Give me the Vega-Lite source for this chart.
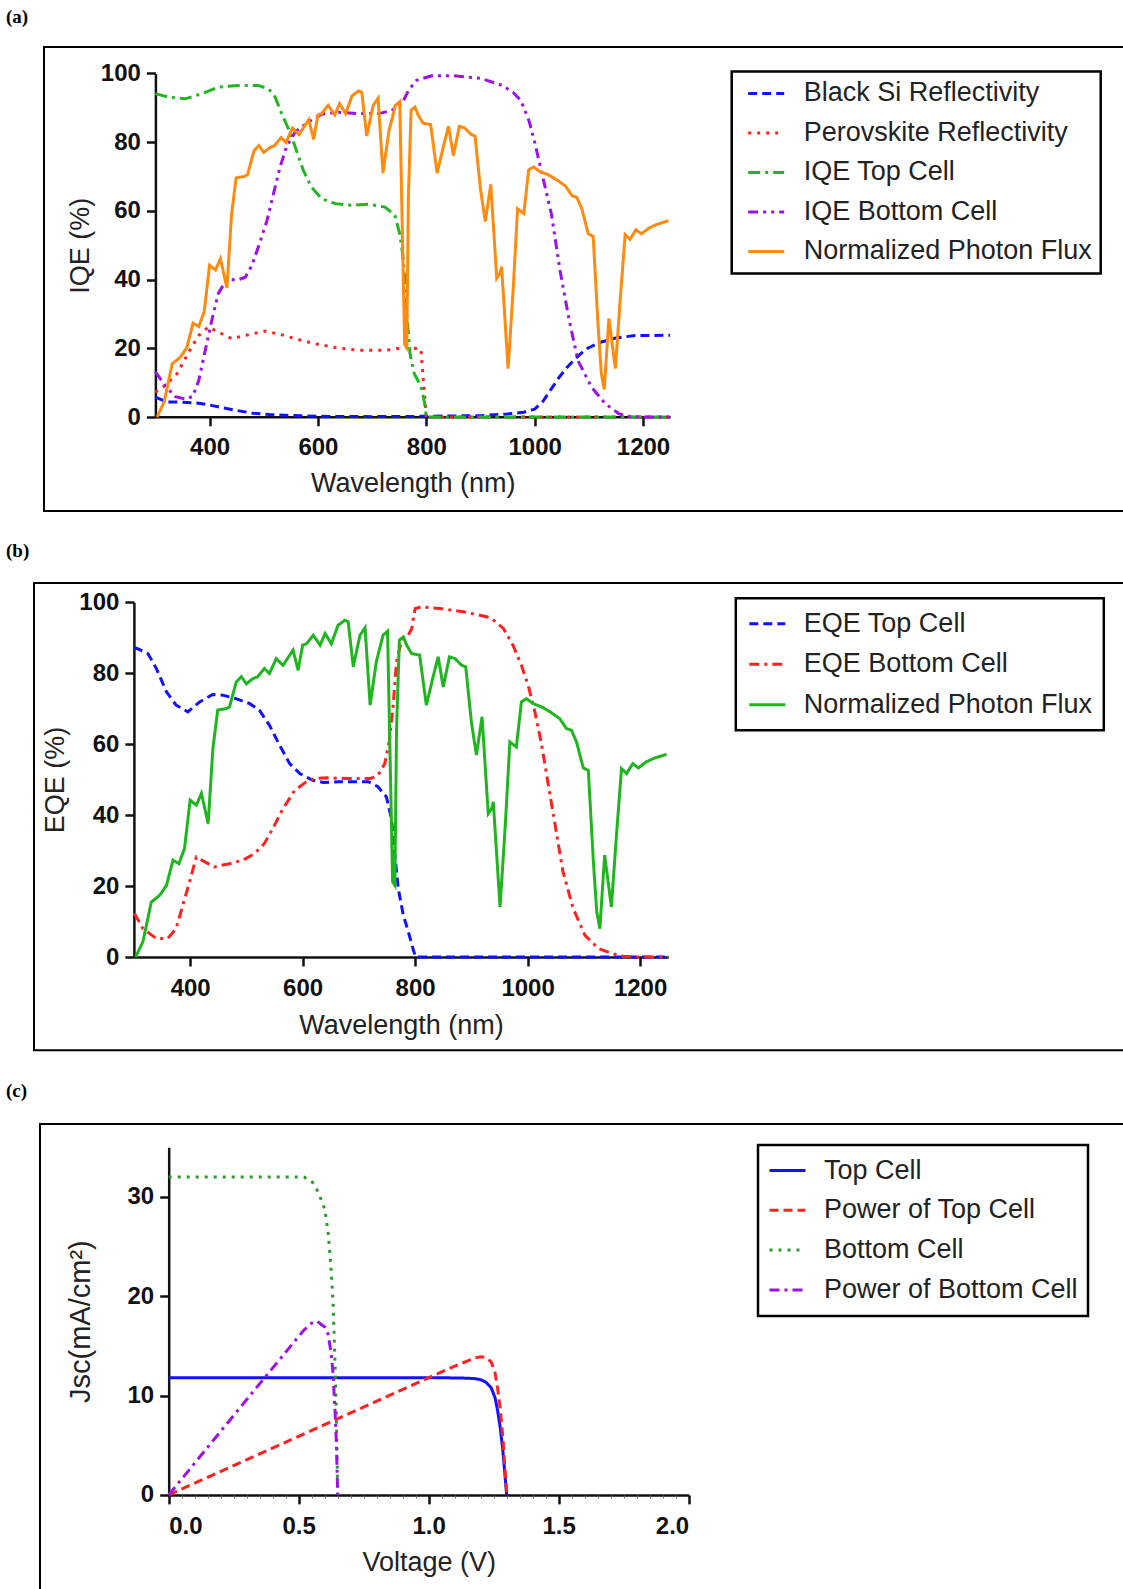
{
"$schema": "https://vega.github.io/schema/vega-lite/v6.json",
"background": "white",
"padding": {"left": 6, "top": 8, "right": 0, "bottom": 0},
"spacing": 30,
"config": {
  "view": {"stroke": "black", "strokeWidth": 2},
  "axis": {"grid": false, "domainColor": "#111", "domainWidth": 2.5, "tickColor": "#111", "tickWidth": 2.5, "tickSize": 9,
    "labelFont": "Liberation Sans", "labelFontWeight": "bold", "labelFontSize": 24, "labelColor": "#111", "labelPadding": 6,
    "titleFont": "Liberation Sans", "titleFontWeight": "normal", "titleFontSize": 27, "titleColor": "#222"},
  "legend": {"symbolType": "stroke", "symbolSize": 1296, "symbolStrokeWidth": 3, "labelFont": "Liberation Sans", "labelFontSize": 27,
    "labelColor": "#222", "strokeColor": "black", "strokeWidth": 2.5, "fillColor": "white", "labelLimit": 500, "title": null},
  "title": {"font": "Liberation Serif", "fontWeight": "bold", "fontSize": 19, "color": "black", "anchor": "start", "frame": "group", "baseline": "bottom"}
},
"resolve": {"scale": {"color": "independent", "strokeDash": "independent", "x": "independent", "y": "independent"}, "legend": {"color": "independent", "strokeDash": "independent"}},
"datasets": {
"a": [
{"s":"Black Si Reflectivity","x":300,"y":5.8},{"s":"Black Si Reflectivity","x":320,"y":4.4},{"s":"Black Si Reflectivity","x":350,"y":4.3},{"s":"Black Si Reflectivity","x":380,"y":4},{"s":"Black Si Reflectivity","x":400,"y":3.5},{"s":"Black Si Reflectivity","x":420,"y":2.8},{"s":"Black Si Reflectivity","x":450,"y":1.9},{"s":"Black Si Reflectivity","x":480,"y":1.1},{"s":"Black Si Reflectivity","x":510,"y":0.7},{"s":"Black Si Reflectivity","x":540,"y":0.5},{"s":"Black Si Reflectivity","x":600,"y":0.2},{"s":"Black Si Reflectivity","x":700,"y":0.1},{"s":"Black Si Reflectivity","x":800,"y":0.2},{"s":"Black Si Reflectivity","x":900,"y":0.4},{"s":"Black Si Reflectivity","x":950,"y":0.9},{"s":"Black Si Reflectivity","x":980,"y":1.4},{"s":"Black Si Reflectivity","x":1000,"y":2.3},{"s":"Black Si Reflectivity","x":1015,"y":4.5},{"s":"Black Si Reflectivity","x":1030,"y":8},{"s":"Black Si Reflectivity","x":1045,"y":11.5},{"s":"Black Si Reflectivity","x":1060,"y":14.5},{"s":"Black Si Reflectivity","x":1075,"y":17},{"s":"Black Si Reflectivity","x":1095,"y":19.8},{"s":"Black Si Reflectivity","x":1120,"y":21.7},{"s":"Black Si Reflectivity","x":1150,"y":23},{"s":"Black Si Reflectivity","x":1185,"y":23.7},{"s":"Black Si Reflectivity","x":1250,"y":23.8},
{"s":"Perovskite Reflectivity","x":300,"y":7.2},{"s":"Perovskite Reflectivity","x":318,"y":9.2},{"s":"Perovskite Reflectivity","x":340,"y":12.6},{"s":"Perovskite Reflectivity","x":355,"y":17},{"s":"Perovskite Reflectivity","x":367,"y":20.4},{"s":"Perovskite Reflectivity","x":380,"y":23.7},{"s":"Perovskite Reflectivity","x":398,"y":26.2},{"s":"Perovskite Reflectivity","x":416,"y":24.7},{"s":"Perovskite Reflectivity","x":441,"y":22.8},{"s":"Perovskite Reflectivity","x":465,"y":23.7},{"s":"Perovskite Reflectivity","x":502,"y":25},{"s":"Perovskite Reflectivity","x":527,"y":24.2},{"s":"Perovskite Reflectivity","x":558,"y":22.8},{"s":"Perovskite Reflectivity","x":595,"y":21.3},{"s":"Perovskite Reflectivity","x":632,"y":20.2},{"s":"Perovskite Reflectivity","x":675,"y":19.4},{"s":"Perovskite Reflectivity","x":724,"y":19.4},{"s":"Perovskite Reflectivity","x":761,"y":20.2},{"s":"Perovskite Reflectivity","x":790,"y":19.8},{"s":"Perovskite Reflectivity","x":795,"y":10},{"s":"Perovskite Reflectivity","x":800,"y":0},{"s":"Perovskite Reflectivity","x":900,"y":0},{"s":"Perovskite Reflectivity","x":1250,"y":0},
{"s":"IQE Top Cell","x":300,"y":94.1},{"s":"IQE Top Cell","x":324,"y":93.1},{"s":"IQE Top Cell","x":355,"y":92.6},{"s":"IQE Top Cell","x":386,"y":94.1},{"s":"IQE Top Cell","x":416,"y":96},{"s":"IQE Top Cell","x":453,"y":96.5},{"s":"IQE Top Cell","x":490,"y":96.5},{"s":"IQE Top Cell","x":509,"y":95.5},{"s":"IQE Top Cell","x":521,"y":93.1},{"s":"IQE Top Cell","x":533,"y":88.3},{"s":"IQE Top Cell","x":548,"y":83},{"s":"IQE Top Cell","x":558,"y":78.6},{"s":"IQE Top Cell","x":573,"y":71.8},{"s":"IQE Top Cell","x":588,"y":66.9},{"s":"IQE Top Cell","x":607,"y":63.5},{"s":"IQE Top Cell","x":632,"y":62.1},{"s":"IQE Top Cell","x":662,"y":61.6},{"s":"IQE Top Cell","x":693,"y":61.9},{"s":"IQE Top Cell","x":724,"y":61.1},{"s":"IQE Top Cell","x":742,"y":58.7},{"s":"IQE Top Cell","x":751,"y":53.3},{"s":"IQE Top Cell","x":758,"y":45.6},{"s":"IQE Top Cell","x":764,"y":30.1},{"s":"IQE Top Cell","x":770,"y":18.4},{"s":"IQE Top Cell","x":778,"y":12.5},{"s":"IQE Top Cell","x":790,"y":9},{"s":"IQE Top Cell","x":797,"y":4},{"s":"IQE Top Cell","x":800,"y":0},{"s":"IQE Top Cell","x":900,"y":0},{"s":"IQE Top Cell","x":1250,"y":0},
{"s":"IQE Bottom Cell","x":300,"y":13.1},{"s":"IQE Bottom Cell","x":318,"y":9.2},{"s":"IQE Bottom Cell","x":336,"y":6},{"s":"IQE Bottom Cell","x":355,"y":5.2},{"s":"IQE Bottom Cell","x":369,"y":6},{"s":"IQE Bottom Cell","x":380,"y":10.6},{"s":"IQE Bottom Cell","x":392,"y":19.4},{"s":"IQE Bottom Cell","x":404,"y":28.1},{"s":"IQE Bottom Cell","x":416,"y":35.9},{"s":"IQE Bottom Cell","x":432,"y":40.2},{"s":"IQE Bottom Cell","x":450,"y":39.8},{"s":"IQE Bottom Cell","x":466,"y":40.7},{"s":"IQE Bottom Cell","x":478,"y":44.1},{"s":"IQE Bottom Cell","x":493,"y":50.9},{"s":"IQE Bottom Cell","x":506,"y":57.2},{"s":"IQE Bottom Cell","x":518,"y":65},{"s":"IQE Bottom Cell","x":530,"y":72.7},{"s":"IQE Bottom Cell","x":542,"y":78.6},{"s":"IQE Bottom Cell","x":558,"y":83},{"s":"IQE Bottom Cell","x":582,"y":85.8},{"s":"IQE Bottom Cell","x":607,"y":88.1},{"s":"IQE Bottom Cell","x":638,"y":88.7},{"s":"IQE Bottom Cell","x":675,"y":88.3},{"s":"IQE Bottom Cell","x":712,"y":88.3},{"s":"IQE Bottom Cell","x":736,"y":89.2},{"s":"IQE Bottom Cell","x":755,"y":91.2},{"s":"IQE Bottom Cell","x":767,"y":95},{"s":"IQE Bottom Cell","x":782,"y":98},{"s":"IQE Bottom Cell","x":810,"y":99.3},{"s":"IQE Bottom Cell","x":850,"y":99.3},{"s":"IQE Bottom Cell","x":900,"y":98.6},{"s":"IQE Bottom Cell","x":940,"y":96.5},{"s":"IQE Bottom Cell","x":960,"y":94.5},{"s":"IQE Bottom Cell","x":975,"y":92},{"s":"IQE Bottom Cell","x":990,"y":86},{"s":"IQE Bottom Cell","x":1000,"y":80},{"s":"IQE Bottom Cell","x":1014,"y":70.5},{"s":"IQE Bottom Cell","x":1031,"y":59},{"s":"IQE Bottom Cell","x":1047,"y":42.5},{"s":"IQE Bottom Cell","x":1064,"y":28},{"s":"IQE Bottom Cell","x":1080,"y":16.4},{"s":"IQE Bottom Cell","x":1105,"y":8.7},{"s":"IQE Bottom Cell","x":1130,"y":3.9},{"s":"IQE Bottom Cell","x":1155,"y":1},{"s":"IQE Bottom Cell","x":1170,"y":0.2},{"s":"IQE Bottom Cell","x":1200,"y":0},{"s":"IQE Bottom Cell","x":1250,"y":0},
{"s":"Normalized Photon Flux","x":303,"y":0},{"s":"Normalized Photon Flux","x":316,"y":4.3},{"s":"Normalized Photon Flux","x":331,"y":15.5},{"s":"Normalized Photon Flux","x":346,"y":17.4},{"s":"Normalized Photon Flux","x":358,"y":20.2},{"s":"Normalized Photon Flux","x":369.5,"y":27.3},{"s":"Normalized Photon Flux","x":380,"y":26.3},{"s":"Normalized Photon Flux","x":390,"y":30.6},{"s":"Normalized Photon Flux","x":400,"y":44.2},{"s":"Normalized Photon Flux","x":411,"y":42.8},{"s":"Normalized Photon Flux","x":420,"y":46.1},{"s":"Normalized Photon Flux","x":432,"y":37.6},{"s":"Normalized Photon Flux","x":440.5,"y":58.8},{"s":"Normalized Photon Flux","x":449,"y":69.6},{"s":"Normalized Photon Flux","x":464,"y":70},{"s":"Normalized Photon Flux","x":470,"y":70.5},{"s":"Normalized Photon Flux","x":482,"y":77.5},{"s":"Normalized Photon Flux","x":491,"y":79},{"s":"Normalized Photon Flux","x":500,"y":77},{"s":"Normalized Photon Flux","x":512,"y":78.5},{"s":"Normalized Photon Flux","x":520,"y":79},{"s":"Normalized Photon Flux","x":532,"y":81.3},{"s":"Normalized Photon Flux","x":541,"y":79.9},{"s":"Normalized Photon Flux","x":553,"y":84.1},{"s":"Normalized Photon Flux","x":565,"y":82.2},{"s":"Normalized Photon Flux","x":583,"y":86.5},{"s":"Normalized Photon Flux","x":592,"y":80.8},{"s":"Normalized Photon Flux","x":600,"y":87.9},{"s":"Normalized Photon Flux","x":607,"y":88.3},{"s":"Normalized Photon Flux","x":619,"y":90.7},{"s":"Normalized Photon Flux","x":631,"y":87.9},{"s":"Normalized Photon Flux","x":640,"y":91.2},{"s":"Normalized Photon Flux","x":651,"y":88.3},{"s":"Normalized Photon Flux","x":663,"y":93.5},{"s":"Normalized Photon Flux","x":675,"y":94.9},{"s":"Normalized Photon Flux","x":681,"y":94.5},{"s":"Normalized Photon Flux","x":690,"y":81.8},{"s":"Normalized Photon Flux","x":702,"y":90.7},{"s":"Normalized Photon Flux","x":711,"y":92.8},{"s":"Normalized Photon Flux","x":720,"y":71},{"s":"Normalized Photon Flux","x":731,"y":83.2},{"s":"Normalized Photon Flux","x":743,"y":90.7},{"s":"Normalized Photon Flux","x":751,"y":91.8},{"s":"Normalized Photon Flux","x":760,"y":21.2},{"s":"Normalized Photon Flux","x":764,"y":20.2},{"s":"Normalized Photon Flux","x":767,"y":64.4},{"s":"Normalized Photon Flux","x":772,"y":89.3},{"s":"Normalized Photon Flux","x":779,"y":90.2},{"s":"Normalized Photon Flux","x":785,"y":87.9},{"s":"Normalized Photon Flux","x":794,"y":85.5},{"s":"Normalized Photon Flux","x":808,"y":85.1},{"s":"Normalized Photon Flux","x":820,"y":71},{"s":"Normalized Photon Flux","x":832,"y":79},{"s":"Normalized Photon Flux","x":841,"y":84.6},{"s":"Normalized Photon Flux","x":850,"y":76.1},{"s":"Normalized Photon Flux","x":861,"y":84.6},{"s":"Normalized Photon Flux","x":871,"y":84.1},{"s":"Normalized Photon Flux","x":883,"y":82.2},{"s":"Normalized Photon Flux","x":890,"y":81.8},{"s":"Normalized Photon Flux","x":900,"y":66.3},{"s":"Normalized Photon Flux","x":909,"y":56.9},{"s":"Normalized Photon Flux","x":919,"y":67.7},{"s":"Normalized Photon Flux","x":930,"y":40.4},{"s":"Normalized Photon Flux","x":936,"y":41.8},{"s":"Normalized Photon Flux","x":939,"y":43.7},{"s":"Normalized Photon Flux","x":951,"y":14.1},{"s":"Normalized Photon Flux","x":960,"y":36.2},{"s":"Normalized Photon Flux","x":968.5,"y":60.6},{"s":"Normalized Photon Flux","x":980,"y":59.2},{"s":"Normalized Photon Flux","x":989,"y":71.9},{"s":"Normalized Photon Flux","x":998,"y":72.8},{"s":"Normalized Photon Flux","x":1010,"y":71.4},{"s":"Normalized Photon Flux","x":1025,"y":70.5},{"s":"Normalized Photon Flux","x":1040,"y":69.1},{"s":"Normalized Photon Flux","x":1057,"y":67.2},{"s":"Normalized Photon Flux","x":1069,"y":64.4},{"s":"Normalized Photon Flux","x":1078,"y":63.9},{"s":"Normalized Photon Flux","x":1087,"y":60.6},{"s":"Normalized Photon Flux","x":1099,"y":53.3},{"s":"Normalized Photon Flux","x":1108,"y":52.6},{"s":"Normalized Photon Flux","x":1117,"y":26.8},{"s":"Normalized Photon Flux","x":1123,"y":12.7},{"s":"Normalized Photon Flux","x":1128.5,"y":8},{"s":"Normalized Photon Flux","x":1137,"y":28.7},{"s":"Normalized Photon Flux","x":1149,"y":14.1},{"s":"Normalized Photon Flux","x":1158,"y":34.3},{"s":"Normalized Photon Flux","x":1167,"y":53.1},{"s":"Normalized Photon Flux","x":1176,"y":51.7},{"s":"Normalized Photon Flux","x":1187,"y":54.5},{"s":"Normalized Photon Flux","x":1197,"y":53.3},{"s":"Normalized Photon Flux","x":1211,"y":55},{"s":"Normalized Photon Flux","x":1226,"y":56.1},{"s":"Normalized Photon Flux","x":1247,"y":57.1}
],
"b": [
{"s":"EQE Top Cell","x":300,"y":87},{"s":"EQE Top Cell","x":305,"y":87},{"s":"EQE Top Cell","x":325,"y":85.5},{"s":"EQE Top Cell","x":340,"y":81.3},{"s":"EQE Top Cell","x":358,"y":74.7},{"s":"EQE Top Cell","x":375,"y":71},{"s":"EQE Top Cell","x":396,"y":69.1},{"s":"EQE Top Cell","x":417,"y":71.9},{"s":"EQE Top Cell","x":440,"y":74},{"s":"EQE Top Cell","x":458,"y":73.8},{"s":"EQE Top Cell","x":482,"y":72.8},{"s":"EQE Top Cell","x":506,"y":71.4},{"s":"EQE Top Cell","x":523,"y":69.6},{"s":"EQE Top Cell","x":541,"y":65.3},{"s":"EQE Top Cell","x":559,"y":59.7},{"s":"EQE Top Cell","x":577,"y":54.5},{"s":"EQE Top Cell","x":595,"y":51.7},{"s":"EQE Top Cell","x":618,"y":49.8},{"s":"EQE Top Cell","x":637,"y":49.2},{"s":"EQE Top Cell","x":666,"y":49.4},{"s":"EQE Top Cell","x":696,"y":49.4},{"s":"EQE Top Cell","x":717,"y":49.4},{"s":"EQE Top Cell","x":734,"y":48},{"s":"EQE Top Cell","x":749,"y":45.1},{"s":"EQE Top Cell","x":758,"y":39},{"s":"EQE Top Cell","x":764,"y":28.7},{"s":"EQE Top Cell","x":770,"y":19.3},{"s":"EQE Top Cell","x":779,"y":11.8},{"s":"EQE Top Cell","x":788,"y":7.1},{"s":"EQE Top Cell","x":797,"y":1.9},{"s":"EQE Top Cell","x":801,"y":0},{"s":"EQE Top Cell","x":900,"y":0},{"s":"EQE Top Cell","x":1250,"y":0},
{"s":"EQE Bottom Cell","x":301,"y":12.3},{"s":"EQE Bottom Cell","x":316,"y":8},{"s":"EQE Bottom Cell","x":340,"y":5.2},{"s":"EQE Bottom Cell","x":360,"y":5.2},{"s":"EQE Bottom Cell","x":375,"y":8},{"s":"EQE Bottom Cell","x":387,"y":14.6},{"s":"EQE Bottom Cell","x":399,"y":21.2},{"s":"EQE Bottom Cell","x":411,"y":28.2},{"s":"EQE Bottom Cell","x":426,"y":26.8},{"s":"EQE Bottom Cell","x":443,"y":25.4},{"s":"EQE Bottom Cell","x":470,"y":26.3},{"s":"EQE Bottom Cell","x":494,"y":27.3},{"s":"EQE Bottom Cell","x":515,"y":29.2},{"s":"EQE Bottom Cell","x":532,"y":32},{"s":"EQE Bottom Cell","x":547,"y":36.2},{"s":"EQE Bottom Cell","x":565,"y":41.8},{"s":"EQE Bottom Cell","x":586,"y":47},{"s":"EQE Bottom Cell","x":606,"y":49.3},{"s":"EQE Bottom Cell","x":621,"y":50.3},{"s":"EQE Bottom Cell","x":643,"y":50.5},{"s":"EQE Bottom Cell","x":684,"y":50.3},{"s":"EQE Bottom Cell","x":720,"y":50.3},{"s":"EQE Bottom Cell","x":734,"y":51.2},{"s":"EQE Bottom Cell","x":746,"y":54.5},{"s":"EQE Bottom Cell","x":754,"y":60.6},{"s":"EQE Bottom Cell","x":761,"y":71},{"s":"EQE Bottom Cell","x":767,"y":83.2},{"s":"EQE Bottom Cell","x":776,"y":89.3},{"s":"EQE Bottom Cell","x":788,"y":90.7},{"s":"EQE Bottom Cell","x":794,"y":92.6},{"s":"EQE Bottom Cell","x":800,"y":98.2},{"s":"EQE Bottom Cell","x":811,"y":98.7},{"s":"EQE Bottom Cell","x":844,"y":98.2},{"s":"EQE Bottom Cell","x":886,"y":97.3},{"s":"EQE Bottom Cell","x":927,"y":95.9},{"s":"EQE Bottom Cell","x":936,"y":95.4},{"s":"EQE Bottom Cell","x":957,"y":92.6},{"s":"EQE Bottom Cell","x":974,"y":87.9},{"s":"EQE Bottom Cell","x":989,"y":82.2},{"s":"EQE Bottom Cell","x":1001,"y":76.6},{"s":"EQE Bottom Cell","x":1013,"y":69.1},{"s":"EQE Bottom Cell","x":1025,"y":59.7},{"s":"EQE Bottom Cell","x":1037,"y":48.4},{"s":"EQE Bottom Cell","x":1049,"y":37.1},{"s":"EQE Bottom Cell","x":1063,"y":24},{"s":"EQE Bottom Cell","x":1081,"y":13.7},{"s":"EQE Bottom Cell","x":1102,"y":6.1},{"s":"EQE Bottom Cell","x":1126,"y":2.4},{"s":"EQE Bottom Cell","x":1149,"y":1},{"s":"EQE Bottom Cell","x":1170,"y":0.2},{"s":"EQE Bottom Cell","x":1188,"y":0},{"s":"EQE Bottom Cell","x":1250,"y":0},
{"s":"Normalized Photon Flux","x":303,"y":0},{"s":"Normalized Photon Flux","x":316,"y":4.3},{"s":"Normalized Photon Flux","x":331,"y":15.5},{"s":"Normalized Photon Flux","x":346,"y":17.4},{"s":"Normalized Photon Flux","x":358,"y":20.2},{"s":"Normalized Photon Flux","x":369.5,"y":27.3},{"s":"Normalized Photon Flux","x":380,"y":26.3},{"s":"Normalized Photon Flux","x":390,"y":30.6},{"s":"Normalized Photon Flux","x":400,"y":44.2},{"s":"Normalized Photon Flux","x":411,"y":42.8},{"s":"Normalized Photon Flux","x":420,"y":46.1},{"s":"Normalized Photon Flux","x":432,"y":37.6},{"s":"Normalized Photon Flux","x":440.5,"y":58.8},{"s":"Normalized Photon Flux","x":449,"y":69.6},{"s":"Normalized Photon Flux","x":464,"y":70},{"s":"Normalized Photon Flux","x":470,"y":70.5},{"s":"Normalized Photon Flux","x":482,"y":77.5},{"s":"Normalized Photon Flux","x":491,"y":79},{"s":"Normalized Photon Flux","x":500,"y":77},{"s":"Normalized Photon Flux","x":512,"y":78.5},{"s":"Normalized Photon Flux","x":520,"y":79},{"s":"Normalized Photon Flux","x":532,"y":81.3},{"s":"Normalized Photon Flux","x":541,"y":79.9},{"s":"Normalized Photon Flux","x":553,"y":84.1},{"s":"Normalized Photon Flux","x":565,"y":82.2},{"s":"Normalized Photon Flux","x":583,"y":86.5},{"s":"Normalized Photon Flux","x":592,"y":80.8},{"s":"Normalized Photon Flux","x":600,"y":87.9},{"s":"Normalized Photon Flux","x":607,"y":88.3},{"s":"Normalized Photon Flux","x":619,"y":90.7},{"s":"Normalized Photon Flux","x":631,"y":87.9},{"s":"Normalized Photon Flux","x":640,"y":91.2},{"s":"Normalized Photon Flux","x":651,"y":88.3},{"s":"Normalized Photon Flux","x":663,"y":93.5},{"s":"Normalized Photon Flux","x":675,"y":94.9},{"s":"Normalized Photon Flux","x":681,"y":94.5},{"s":"Normalized Photon Flux","x":690,"y":81.8},{"s":"Normalized Photon Flux","x":702,"y":90.7},{"s":"Normalized Photon Flux","x":711,"y":92.8},{"s":"Normalized Photon Flux","x":720,"y":71},{"s":"Normalized Photon Flux","x":731,"y":83.2},{"s":"Normalized Photon Flux","x":743,"y":90.7},{"s":"Normalized Photon Flux","x":751,"y":91.8},{"s":"Normalized Photon Flux","x":760,"y":21.2},{"s":"Normalized Photon Flux","x":764,"y":20.2},{"s":"Normalized Photon Flux","x":767,"y":64.4},{"s":"Normalized Photon Flux","x":772,"y":89.3},{"s":"Normalized Photon Flux","x":779,"y":90.2},{"s":"Normalized Photon Flux","x":785,"y":87.9},{"s":"Normalized Photon Flux","x":794,"y":85.5},{"s":"Normalized Photon Flux","x":808,"y":85.1},{"s":"Normalized Photon Flux","x":820,"y":71},{"s":"Normalized Photon Flux","x":832,"y":79},{"s":"Normalized Photon Flux","x":841,"y":84.6},{"s":"Normalized Photon Flux","x":850,"y":76.1},{"s":"Normalized Photon Flux","x":861,"y":84.6},{"s":"Normalized Photon Flux","x":871,"y":84.1},{"s":"Normalized Photon Flux","x":883,"y":82.2},{"s":"Normalized Photon Flux","x":890,"y":81.8},{"s":"Normalized Photon Flux","x":900,"y":66.3},{"s":"Normalized Photon Flux","x":909,"y":56.9},{"s":"Normalized Photon Flux","x":919,"y":67.7},{"s":"Normalized Photon Flux","x":930,"y":40.4},{"s":"Normalized Photon Flux","x":936,"y":41.8},{"s":"Normalized Photon Flux","x":939,"y":43.7},{"s":"Normalized Photon Flux","x":951,"y":14.1},{"s":"Normalized Photon Flux","x":960,"y":36.2},{"s":"Normalized Photon Flux","x":968.5,"y":60.6},{"s":"Normalized Photon Flux","x":980,"y":59.2},{"s":"Normalized Photon Flux","x":989,"y":71.9},{"s":"Normalized Photon Flux","x":998,"y":72.8},{"s":"Normalized Photon Flux","x":1010,"y":71.4},{"s":"Normalized Photon Flux","x":1025,"y":70.5},{"s":"Normalized Photon Flux","x":1040,"y":69.1},{"s":"Normalized Photon Flux","x":1057,"y":67.2},{"s":"Normalized Photon Flux","x":1069,"y":64.4},{"s":"Normalized Photon Flux","x":1078,"y":63.9},{"s":"Normalized Photon Flux","x":1087,"y":60.6},{"s":"Normalized Photon Flux","x":1099,"y":53.3},{"s":"Normalized Photon Flux","x":1108,"y":52.6},{"s":"Normalized Photon Flux","x":1117,"y":26.8},{"s":"Normalized Photon Flux","x":1123,"y":12.7},{"s":"Normalized Photon Flux","x":1128.5,"y":8},{"s":"Normalized Photon Flux","x":1137,"y":28.7},{"s":"Normalized Photon Flux","x":1149,"y":14.1},{"s":"Normalized Photon Flux","x":1158,"y":34.3},{"s":"Normalized Photon Flux","x":1167,"y":53.1},{"s":"Normalized Photon Flux","x":1176,"y":51.7},{"s":"Normalized Photon Flux","x":1187,"y":54.5},{"s":"Normalized Photon Flux","x":1197,"y":53.3},{"s":"Normalized Photon Flux","x":1211,"y":55},{"s":"Normalized Photon Flux","x":1226,"y":56.1},{"s":"Normalized Photon Flux","x":1247,"y":57.1}
],
"c": [
{"s":"Top Cell","x":0,"y":11.8},{"s":"Top Cell","x":0.5,"y":11.8},{"s":"Top Cell","x":1.0,"y":11.8},{"s":"Top Cell","x":1.1,"y":11.78},{"s":"Top Cell","x":1.15,"y":11.75},{"s":"Top Cell","x":1.18,"y":11.7},{"s":"Top Cell","x":1.2,"y":11.6},{"s":"Top Cell","x":1.22,"y":11.35},{"s":"Top Cell","x":1.24,"y":10.8},{"s":"Top Cell","x":1.255,"y":9.8},{"s":"Top Cell","x":1.265,"y":8.5},{"s":"Top Cell","x":1.275,"y":6.8},{"s":"Top Cell","x":1.285,"y":4.5},{"s":"Top Cell","x":1.29,"y":3},{"s":"Top Cell","x":1.295,"y":1.5},{"s":"Top Cell","x":1.3,"y":0},
{"s":"Power of Top Cell","x":0,"y":0},{"s":"Power of Top Cell","x":0.5,"y":5.9},{"s":"Power of Top Cell","x":1.0,"y":11.8},{"s":"Power of Top Cell","x":1.1,"y":12.96},{"s":"Power of Top Cell","x":1.15,"y":13.5},{"s":"Power of Top Cell","x":1.18,"y":13.8},{"s":"Power of Top Cell","x":1.2,"y":13.9},{"s":"Power of Top Cell","x":1.22,"y":13.85},{"s":"Power of Top Cell","x":1.24,"y":13.4},{"s":"Power of Top Cell","x":1.255,"y":12.3},{"s":"Power of Top Cell","x":1.265,"y":10.75},{"s":"Power of Top Cell","x":1.275,"y":8.7},{"s":"Power of Top Cell","x":1.285,"y":5.8},{"s":"Power of Top Cell","x":1.29,"y":3.9},{"s":"Power of Top Cell","x":1.295,"y":1.95},{"s":"Power of Top Cell","x":1.3,"y":0},
{"s":"Bottom Cell","x":0,"y":32},{"s":"Bottom Cell","x":0.3,"y":32},{"s":"Bottom Cell","x":0.52,"y":32},{"s":"Bottom Cell","x":0.55,"y":31.6},{"s":"Bottom Cell","x":0.575,"y":30.5},{"s":"Bottom Cell","x":0.6,"y":28.8},{"s":"Bottom Cell","x":0.613,"y":26.5},{"s":"Bottom Cell","x":0.624,"y":23},{"s":"Bottom Cell","x":0.632,"y":19.5},{"s":"Bottom Cell","x":0.64,"y":13},{"s":"Bottom Cell","x":0.645,"y":8},{"s":"Bottom Cell","x":0.65,"y":0},
{"s":"Power of Bottom Cell","x":0,"y":0},{"s":"Power of Bottom Cell","x":0.3,"y":9.6},{"s":"Power of Bottom Cell","x":0.52,"y":16.6},{"s":"Power of Bottom Cell","x":0.55,"y":17.3},{"s":"Power of Bottom Cell","x":0.57,"y":17.5},{"s":"Power of Bottom Cell","x":0.6,"y":16.9},{"s":"Power of Bottom Cell","x":0.613,"y":16.2},{"s":"Power of Bottom Cell","x":0.624,"y":14.4},{"s":"Power of Bottom Cell","x":0.632,"y":12.3},{"s":"Power of Bottom Cell","x":0.64,"y":8.3},{"s":"Power of Bottom Cell","x":0.645,"y":5.2},{"s":"Power of Bottom Cell","x":0.65,"y":0}
]
},
"vconcat": [
{
  "spacing": 0,
  "hconcat": [
    {"width": 36.6, "height": 10, "data": {"values": []}, "mark": "point", "view": {"stroke": null}, "title": {"text": "(a)", "offset": 20}},
    {
      "width": 1100, "height": 464,
      "data": {"name": "a"},
      "mark": {"type": "line", "strokeWidth": 3},
      "encoding": {
        "x": {"field": "x", "type": "quantitative", "scale": {"domain": [300, 1250], "range": [111.4, 626.1], "nice": false, "zero": false},
          "axis": {"values": [400, 600, 800, 1000, 1200], "format": "d", "title": "Wavelength (nm)", "orient": "bottom", "offset": -94.2, "labelPadding": 10, "titlePadding": 11}},
        "y": {"field": "y", "type": "quantitative", "scale": {"domain": [0, 100], "range": [370, 26.4], "nice": false, "zero": false},
          "axis": {"values": [0, 20, 40, 60, 80, 100], "title": "IQE (%)", "orient": "left", "offset": -111.4, "titlePadding": 6}},
        "color": {"field": "s", "type": "nominal",
          "scale": {"domain": ["Black Si Reflectivity", "Perovskite Reflectivity", "IQE Top Cell", "IQE Bottom Cell", "Normalized Photon Flux"], "range": ["#1111ff", "#ff2020", "#22b522", "#9d10e8", "#ff8a10"]},
          "legend": {"orient": "none", "legendX": 725.7, "legendY": 24.4, "padding": 8, "rowPadding": 11.5, "clipHeight": 28, "symbolOffset": 7, "labelOffset": 18}},
        "strokeDash": {"field": "s", "type": "nominal",
          "scale": {"domain": ["Black Si Reflectivity", "Perovskite Reflectivity", "IQE Top Cell", "IQE Bottom Cell", "Normalized Photon Flux"], "range": [[9, 5], [3, 6], [12, 5, 3, 5], [10, 5, 3, 5, 3, 5], [1, 0]]},
          "legend": {"orient": "none", "legendX": 725.7, "legendY": 24.4, "padding": 8, "rowPadding": 11.5, "clipHeight": 28, "symbolOffset": 7, "labelOffset": 18}}
      }
    }
  ]
},
{
  "spacing": 0,
  "hconcat": [
    {"width": 26.4, "height": 10, "data": {"values": []}, "mark": "point", "view": {"stroke": null}, "title": {"text": "(b)", "offset": 22}},
    {
      "width": 1100, "height": 467.2,
      "data": {"name": "b"},
      "mark": {"type": "line", "strokeWidth": 3},
      "encoding": {
        "x": {"field": "x", "type": "quantitative", "scale": {"domain": [300, 1250], "range": [99.9, 634.2], "nice": false, "zero": false},
          "axis": {"values": [400, 600, 800, 1000, 1200], "format": "d", "title": "Wavelength (nm)", "orient": "bottom", "offset": -93.2, "labelPadding": 10, "titlePadding": 12}},
        "y": {"field": "y", "type": "quantitative", "scale": {"domain": [0, 100], "range": [374, 19.2], "nice": false, "zero": false},
          "axis": {"values": [0, 20, 40, 60, 80, 100], "title": "EQE (%)", "orient": "left", "offset": -99.9, "titlePadding": 9}},
        "color": {"field": "s", "type": "nominal",
          "scale": {"domain": ["EQE Top Cell", "EQE Bottom Cell", "Normalized Photon Flux"], "range": ["#1111ff", "#ff2020", "#1fb51f"]},
          "legend": {"orient": "none", "legendX": 729.8, "legendY": 15.2, "padding": 11, "rowPadding": 11.5, "clipHeight": 29, "symbolOffset": 1, "labelOffset": 17}},
        "strokeDash": {"field": "s", "type": "nominal",
          "scale": {"domain": ["EQE Top Cell", "EQE Bottom Cell", "Normalized Photon Flux"], "range": [[9, 5], [10, 5, 3, 5], [1, 0]]},
          "legend": {"orient": "none", "legendX": 729.8, "legendY": 15.2, "padding": 11, "rowPadding": 11.5, "clipHeight": 29, "symbolOffset": 1, "labelOffset": 17}}
      }
    }
  ]
},
{
  "spacing": 0,
  "hconcat": [
    {"width": 32.5, "height": 10, "data": {"values": []}, "mark": "point", "view": {"stroke": null}, "title": {"text": "(c)", "offset": 23}},
    {
      "width": 1100, "height": 480,
      "data": {"name": "c"},
      "resolve": {"axis": {"x": "independent"}},
      "layer": [
        {
          "mark": {"type": "line", "strokeWidth": 3},
          "encoding": {
            "x": {"field": "x", "type": "quantitative", "scale": {"domain": [0, 2], "range": [128.7, 648.7], "nice": false, "zero": false},
              "axis": {"values": [0, 0.5, 1, 1.5, 2], "format": ".1f", "title": "Voltage (V)", "orient": "bottom", "offset": -109.1, "labelPadding": 11, "titlePadding": 11}},
            "y": {"field": "y", "type": "quantitative", "scale": {"domain": [0, 35], "range": [370.9, 23.3], "nice": false, "zero": false},
              "axis": {"values": [0, 10, 20, 30], "title": "Jsc(mA/cm²)", "titleFontSize": 29, "orient": "left", "offset": -128.7, "titlePadding": 32}},
            "color": {"field": "s", "type": "nominal",
              "scale": {"domain": ["Top Cell", "Power of Top Cell", "Bottom Cell", "Power of Bottom Cell"], "range": ["#1111ff", "#ff2020", "#2a9a2a", "#9d10e8"]},
              "legend": {"orient": "none", "legendX": 752, "legendY": 21, "padding": 10, "rowPadding": 8.8, "clipHeight": 31, "symbolOffset": 0, "labelOffset": 17}},
            "strokeDash": {"field": "s", "type": "nominal",
              "scale": {"domain": ["Top Cell", "Power of Top Cell", "Bottom Cell", "Power of Bottom Cell"], "range": [[1, 0], [9, 5], [3, 6], [10, 5, 3, 5]]},
              "legend": {"orient": "none", "legendX": 752, "legendY": 21, "padding": 10, "rowPadding": 8.8, "clipHeight": 31, "symbolOffset": 0, "labelOffset": 17}}
          }
        },
        {
          "mark": {"type": "point", "opacity": 0},
          "encoding": {
            "x": {"field": "x", "type": "quantitative", "scale": {"domain": [0, 2], "range": [128.7, 648.7], "nice": false, "zero": false},
              "axis": {"values": [0.05, 0.1, 0.15, 0.2, 0.25, 0.3, 0.35, 0.4, 0.45, 0.55, 0.6, 0.65, 0.7, 0.75, 0.8, 0.85, 0.9, 0.95, 1.05, 1.1, 1.15, 1.2, 1.25, 1.3, 1.35, 1.4, 1.45, 1.55, 1.6, 1.65, 1.7, 1.75, 1.8, 1.85, 1.9, 1.95],
                "labels": false, "domain": false, "title": null, "orient": "bottom", "offset": -109.1, "tickSize": 3, "tickWidth": 1, "tickColor": "#666"}}
          }
        }
      ]
    }
  ]
}
]
}
